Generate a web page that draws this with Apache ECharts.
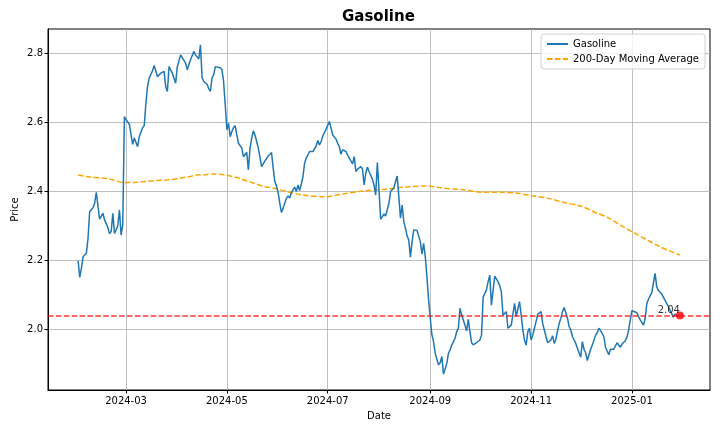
<!DOCTYPE html>
<html>
<head>
<meta charset="utf-8">
<title>Gasoline</title>
<script src="https://cdn.jsdelivr.net/npm/echarts@6/dist/echarts.min.js"></script>
<style>
  html, body { margin: 0; padding: 0; background: #fff; }
  #chart { width: 720px; height: 432px; }
</style>
</head>
<body>
<div id="chart"></div>
<script>
// daily gasoline price
var gasDates = [
  '2024-02-01','2024-02-02','2024-02-03','2024-02-04','2024-02-06','2024-02-07','2024-02-08','2024-02-09','2024-02-10','2024-02-11',
  '2024-02-12','2024-02-14','2024-02-15','2024-02-16','2024-02-17','2024-02-19','2024-02-20','2024-02-21','2024-02-22','2024-02-23',
  '2024-02-24','2024-02-25','2024-02-26','2024-02-27','2024-02-28','2024-02-29','2024-03-01','2024-03-03','2024-03-04','2024-03-05',
  '2024-03-06','2024-03-07','2024-03-08','2024-03-09','2024-03-11','2024-03-12','2024-03-13','2024-03-14','2024-03-15','2024-03-17',
  '2024-03-18','2024-03-20','2024-03-21','2024-03-22','2024-03-24','2024-03-25','2024-03-26','2024-03-27','2024-03-29','2024-03-31',
  '2024-04-01','2024-04-02','2024-04-03','2024-04-04','2024-04-06','2024-04-07','2024-04-08','2024-04-09','2024-04-10','2024-04-11',
  '2024-04-12','2024-04-13','2024-04-14','2024-04-15','2024-04-16','2024-04-17','2024-04-19','2024-04-20','2024-04-21','2024-04-22',
  '2024-04-23','2024-04-24','2024-04-25','2024-04-27','2024-04-28','2024-04-29','2024-04-30','2024-05-01','2024-05-02','2024-05-03',
  '2024-05-04','2024-05-05','2024-05-06','2024-05-07','2024-05-08','2024-05-09','2024-05-10','2024-05-11','2024-05-12','2024-05-13',
  '2024-05-14','2024-05-15','2024-05-16','2024-05-17','2024-05-18','2024-05-19','2024-05-20','2024-05-22','2024-05-23','2024-05-24',
  '2024-05-25','2024-05-26','2024-05-28','2024-05-29','2024-05-30','2024-05-31','2024-06-01','2024-06-02','2024-06-03','2024-06-04',
  '2024-06-05','2024-06-06','2024-06-07','2024-06-08','2024-06-09','2024-06-10','2024-06-11','2024-06-12','2024-06-13','2024-06-14',
  '2024-06-15','2024-06-16','2024-06-17','2024-06-18','2024-06-19','2024-06-20','2024-06-22','2024-06-23','2024-06-24','2024-06-25',
  '2024-06-26','2024-06-27','2024-06-28','2024-06-29','2024-06-30','2024-07-01','2024-07-02','2024-07-03','2024-07-04','2024-07-06',
  '2024-07-07','2024-07-08','2024-07-09','2024-07-10','2024-07-12','2024-07-13','2024-07-14','2024-07-16','2024-07-17','2024-07-18',
  '2024-07-19','2024-07-20','2024-07-21','2024-07-22','2024-07-23','2024-07-24','2024-07-25','2024-07-26','2024-07-28','2024-07-29',
  '2024-07-30','2024-07-31','2024-08-01','2024-08-02','2024-08-03','2024-08-04','2024-08-05','2024-08-07','2024-08-08','2024-08-09',
  '2024-08-10','2024-08-11','2024-08-12','2024-08-13','2024-08-14','2024-08-15','2024-08-16','2024-08-17','2024-08-18','2024-08-19',
  '2024-08-20','2024-08-21','2024-08-22','2024-08-24','2024-08-25','2024-08-26','2024-08-27','2024-08-28','2024-08-29','2024-08-30',
  '2024-08-31','2024-09-01','2024-09-02','2024-09-03','2024-09-04','2024-09-06','2024-09-07','2024-09-08','2024-09-09','2024-09-11',
  '2024-09-12','2024-09-13','2024-09-14','2024-09-16','2024-09-17','2024-09-18','2024-09-19','2024-09-20','2024-09-21','2024-09-22',
  '2024-09-23','2024-09-24','2024-09-25','2024-09-26','2024-09-27','2024-09-28','2024-09-29','2024-10-01','2024-10-02','2024-10-03',
  '2024-10-04','2024-10-05','2024-10-06','2024-10-07','2024-10-08','2024-10-09','2024-10-10','2024-10-11','2024-10-12','2024-10-13',
  '2024-10-14','2024-10-15','2024-10-16','2024-10-17','2024-10-18','2024-10-19','2024-10-20','2024-10-21','2024-10-22','2024-10-23',
  '2024-10-24','2024-10-25','2024-10-26','2024-10-27','2024-10-28','2024-10-29','2024-10-30','2024-10-31','2024-11-01','2024-11-02',
  '2024-11-03','2024-11-04','2024-11-05','2024-11-06','2024-11-07','2024-11-08','2024-11-09','2024-11-10','2024-11-11','2024-11-12',
  '2024-11-13','2024-11-14','2024-11-15','2024-11-16','2024-11-17','2024-11-18','2024-11-19','2024-11-20','2024-11-21','2024-11-22',
  '2024-11-23','2024-11-24','2024-11-25','2024-11-26','2024-11-28','2024-11-29','2024-11-30','2024-12-01','2024-12-02','2024-12-03',
  '2024-12-04','2024-12-05','2024-12-06','2024-12-07','2024-12-08','2024-12-09','2024-12-10','2024-12-11','2024-12-12','2024-12-13',
  '2024-12-14','2024-12-15','2024-12-16','2024-12-17','2024-12-18','2024-12-19','2024-12-21','2024-12-22','2024-12-23','2024-12-24',
  '2024-12-25','2024-12-26','2024-12-28','2024-12-29','2024-12-30','2024-12-31','2025-01-01','2025-01-02','2025-01-04','2025-01-05',
  '2025-01-06','2025-01-08','2025-01-09','2025-01-10','2025-01-11','2025-01-12','2025-01-13','2025-01-15','2025-01-16','2025-01-17',
  '2025-01-19','2025-01-20','2025-01-22','2025-01-23','2025-01-24','2025-01-25','2025-01-26','2025-01-27','2025-01-28','2025-01-29',
  '2025-01-30'
];
var gasPrices = [
  2.198,2.150,2.177,2.210,2.220,2.264,2.341,2.341,2.352,2.365,
  2.397,2.319,2.319,2.336,2.317,2.295,2.277,2.283,2.336,2.278,
  2.288,2.300,2.346,2.273,2.302,2.616,2.607,2.594,2.590,2.536,
  2.554,2.555,2.529,2.558,2.584,2.590,2.655,2.703,2.728,2.749,
  2.764,2.732,2.729,2.742,2.747,2.703,2.689,2.761,2.742,2.713,
  2.761,2.763,2.795,2.790,2.771,2.752,2.757,2.781,2.776,2.805,
  2.795,2.790,2.783,2.824,2.729,2.718,2.710,2.697,2.689,2.728,
  2.737,2.761,2.766,2.758,2.752,2.718,2.650,2.578,2.597,2.558,
  2.573,2.584,2.590,2.563,2.539,2.544,2.525,2.500,2.505,2.513,
  2.462,2.525,2.554,2.575,2.563,2.544,2.525,2.471,2.474,2.488,
  2.491,2.502,2.512,2.467,2.428,2.415,2.396,2.365,2.338,2.351,
  2.355,2.380,2.386,2.380,2.396,2.404,2.412,2.399,2.418,2.402,
  2.421,2.442,2.481,2.496,2.505,2.515,2.515,2.513,2.531,2.547,
  2.534,2.544,2.560,2.570,2.580,2.576,2.602,2.583,2.563,2.551,
  2.539,2.529,2.507,2.520,2.515,2.505,2.496,2.479,2.500,2.457,
  2.464,2.467,2.471,2.465,2.418,2.452,2.470,2.457,2.435,2.418,
  2.389,2.483,2.404,2.319,2.326,2.334,2.328,2.365,2.399,2.394,
  2.409,2.428,2.444,2.384,2.322,2.360,2.312,2.293,2.270,2.259,
  2.209,2.254,2.288,2.286,2.283,2.254,2.218,2.249,2.210,2.152,
  2.085,2.032,1.984,1.964,1.930,1.897,1.903,1.921,1.870,1.901,
  1.930,1.940,1.954,1.974,1.993,2.003,2.061,2.041,2.027,2.012,
  1.995,2.029,1.993,1.961,1.955,1.957,1.961,1.969,1.983,2.093,
  2.097,2.114,2.138,2.157,2.070,2.068,2.154,2.152,2.138,2.126,
  2.109,2.041,2.046,2.051,2.003,2.008,2.012,2.017,2.075,2.037,
  2.032,2.080,2.041,1.998,1.969,1.954,1.993,2.003,1.969,1.983,
  2.003,2.022,2.044,2.039,2.051,2.017,1.998,1.979,1.961,1.966,
  1.969,1.981,1.959,1.971,1.995,2.017,2.032,2.051,2.063,2.061,
  2.032,2.008,1.998,1.979,1.959,1.945,1.932,1.919,1.964,1.942,
  1.932,1.909,1.926,1.942,1.954,1.959,1.983,1.990,2.003,1.996,
  1.988,1.979,1.948,1.945,1.926,1.942,1.942,1.940,1.961,1.959,
  1.948,1.957,1.967,1.977,1.998,2.027,2.054,2.056,2.048,2.037,
  2.027,2.012,2.032,2.075,2.087,2.097,2.106,2.162,2.123,2.112,
  2.102,2.093,2.075,2.066,2.061,2.046,2.035,2.044,2.049,2.039,
  2.040
];

// 200-day moving average
var maDates = [
  '2024-02-01','2024-02-08','2024-02-16','2024-02-22','2024-02-28','2024-03-05','2024-03-13','2024-03-19','2024-03-27','2024-04-08',
  '2024-04-13','2024-04-18','2024-04-23','2024-04-30','2024-05-08','2024-05-16','2024-05-24','2024-05-29','2024-06-06','2024-06-16',
  '2024-06-30','2024-07-10','2024-07-23','2024-08-05','2024-08-19','2024-08-30','2024-09-09','2024-09-21','2024-10-03','2024-10-13',
  '2024-10-24','2024-11-01','2024-11-11','2024-11-21','2024-12-01','2024-12-11','2024-12-17','2024-12-25','2025-01-01','2025-01-10',
  '2025-01-18','2025-01-30'
];
var maValues = [
  2.447,2.441,2.438,2.433,2.425,2.425,2.428,2.431,2.433,2.442,
  2.447,2.448,2.450,2.447,2.438,2.425,2.413,2.409,2.399,2.389,
  2.384,2.392,2.401,2.406,2.413,2.415,2.409,2.404,2.397,2.397,
  2.394,2.387,2.380,2.367,2.357,2.336,2.325,2.302,2.283,2.259,
  2.239,2.215
];

var refLevel = 2.04;
var xTickLabels = ['2024-03', '2024-05', '2024-07', '2024-09', '2024-11', '2025-01'];
var yTicks = [2.0, 2.2, 2.4, 2.6, 2.8];

function toTime(s) {
  var p = s.split('-');
  return new Date(+p[0], +p[1] - 1, +(p[2] || 1)).getTime();
}

var xTickValues = xTickLabels.map(toTime);
var gasData = gasDates.map(function (d, i) { return [toTime(d), gasPrices[i]]; });
var maData = maDates.map(function (d, i) { return [toTime(d), maValues[i]]; });
var lastPoint = gasData[gasData.length - 1];

var FONT = 'DejaVu Sans';
var chart = echarts.init(document.getElementById('chart'), null, { renderer: 'canvas' });

var option = {
  animation: false,
  backgroundColor: '#fff',
  textStyle: { fontFamily: FONT },
  title: {
    text: 'Gasoline',
    left: 342,
    top: 10,
    padding: 0,
    textStyle: { fontFamily: FONT, fontSize: 15, fontWeight: 'bold', color: '#000' }
  },
  legend: {
    data: ['Gasoline', '200-Day Moving Average'],
    orient: 'vertical',
    right: 15,
    top: 34,
    padding: [5, 6, 5, 5],
    itemGap: 5,
    itemWidth: 21,
    itemHeight: 10,
    backgroundColor: 'rgba(255,255,255,0.8)',
    borderColor: '#d0d0d0',
    borderWidth: 1,
    borderRadius: 3,
    // line sample only, no marker
    itemStyle: { opacity: 0 },
    textStyle: { fontFamily: FONT, fontSize: 10, color: '#000' }
  },
  grid: {
    left: 48,
    right: 10,
    top: 29,
    bottom: 42,
    show: true,
    borderColor: '#000',
    borderWidth: 1,
    containLabel: false,
    outerBoundsMode: 'none'
  },
  xAxis: {
    // timestamps on a plain value axis, so the month ticks can be pinned
    type: 'value',
    min: new Date(2024, 0, 13, 19).getTime(),
    max: new Date(2025, 1, 17, 5).getTime(),
    name: 'Date',
    nameLocation: 'middle',
    nameGap: 21,
    nameMoveOverlap: false,
    nameTextStyle: { fontFamily: FONT, fontSize: 10, color: '#000' },
    axisLine: { show: true, onZero: false, lineStyle: { color: '#000', width: 1 } },
    axisTick: { show: true, length: 3.5, customValues: xTickValues, lineStyle: { color: '#000' } },
    axisLabel: {
      customValues: xTickValues,
      margin: 6,
      fontFamily: FONT,
      fontSize: 10,
      color: '#000',
      formatter: function (v) {
        var i = xTickValues.indexOf(v);
        if (i >= 0) return xTickLabels[i];
        var d = new Date(v);
        return d.getFullYear() + '-' + ('0' + (d.getMonth() + 1)).slice(-2);
      }
    },
    splitLine: { show: true, lineStyle: { color: '#b0b0b0', width: 0.8 } }
  },
  yAxis: {
    type: 'value',
    min: 1.824,
    max: 2.870,
    name: 'Price',
    nameLocation: 'middle',
    nameGap: 28,
    nameRotate: 90,
    nameMoveOverlap: false,
    nameTextStyle: { fontFamily: FONT, fontSize: 10, color: '#000' },
    axisLine: { show: true, onZero: false, lineStyle: { color: '#000', width: 1 } },
    axisTick: { show: true, length: 3.5, customValues: yTicks, lineStyle: { color: '#000' } },
    axisLabel: {
      customValues: yTicks,
      margin: 5,
      fontFamily: FONT,
      fontSize: 10,
      color: '#000',
      formatter: function (v) { return v.toFixed(1); }
    },
    splitLine: { show: true, lineStyle: { color: '#b0b0b0', width: 0.8 } }
  },
  series: [
    {
      name: 'Gasoline',
      type: 'line',
      data: gasData,
      symbol: 'none',
      color: '#1f77b4',
      lineStyle: { color: '#1f77b4', width: 1.5 },
      z: 3,
      markLine: {
        silent: true,
        symbol: ['none', 'none'],
        label: { show: false },
        lineStyle: { color: 'rgba(255,0,0,0.8)', width: 1.5, type: [5.5, 2.4] },
        data: [{ yAxis: refLevel }]
      }
    },
    {
      name: '200-Day Moving Average',
      type: 'line',
      data: maData,
      symbol: 'none',
      smooth: 0.3,
      color: '#ffa500',
      lineStyle: { color: '#ffa500', width: 1.5, type: [5.5, 2.4] },
      z: 2
    },
    {
      name: 'last',
      type: 'scatter',
      data: [lastPoint],
      symbolSize: 8,
      itemStyle: { color: '#ff0000' },
      z: 5,
      label: {
        show: true,
        position: [4, 4],
        align: 'right',
        verticalAlign: 'bottom',
        fontFamily: FONT,
        fontSize: 10,
        color: '#000',
        formatter: function (p) { return p.value[1].toFixed(2); }
      }
    }
  ]
};

chart.setOption(option);
</script>
</body>
</html>
